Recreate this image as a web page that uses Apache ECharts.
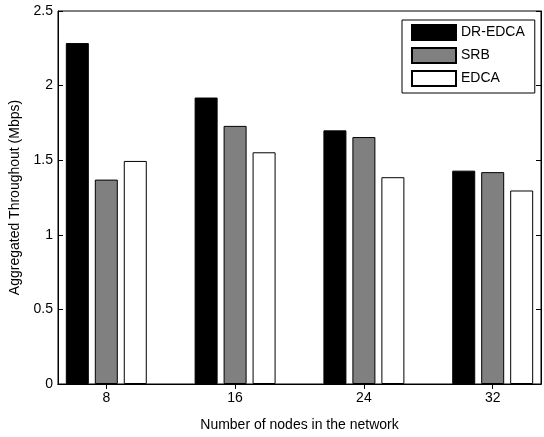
<!DOCTYPE html>
<html>
<head>
<meta charset="utf-8">
<script src="https://cdn.jsdelivr.net/npm/echarts@6/dist/echarts.min.js"></script>
<style>html,body{margin:0;padding:0;background:#fff}#c{width:544px;height:437px}</style>
</head>
<body>
<div id="c"></div>
<script>
var nodes = [8, 16, 24, 32];
var drEdca = [2.285, 1.92, 1.70, 1.43];
var srb = [1.37, 1.73, 1.655, 1.42];
var edca = [1.495, 1.553, 1.386, 1.297];
var seriesNames = ['DR-EDCA', 'SRB', 'EDCA'];
var yTicks = [0, 0.5, 1, 1.5, 2, 2.5];

function pairs(vals) { return nodes.map(function (n, i) { return [n, vals[i]]; }); }
var FONT = 'Liberation Sans, Arial, sans-serif';
var chart = echarts.init(document.getElementById('c'));
var colors = ['#000000', '#808080', '#ffffff'];
var data = [drEdca, srb, edca];
chart.setOption({
  animation: false,
  backgroundColor: '#fff',
  grid: { left: 58, right: 3, top: 11, bottom: 43, show: true, borderColor: '#000', borderWidth: 1, backgroundColor: 'transparent' },
  legend: {
    orient: 'vertical', left: 402, top: 20, padding: [4, 10, 6, 9],
    itemWidth: 44, itemHeight: 15, itemGap: 6,
    borderColor: '#000', borderWidth: 1, backgroundColor: '#fff',
    textStyle: { fontFamily: FONT, fontSize: 14, color: '#000', lineHeight: 15 },
    icon: 'rect',
    data: seriesNames
  },
  xAxis: [{
    type: 'value', min: 5, max: 35, position: 'bottom',
    name: 'Number of nodes in the network', nameLocation: 'middle', nameGap: 34,
    nameTextStyle: { fontFamily: FONT, fontSize: 14, color: '#000' },
    axisLine: { show: true, lineStyle: { color: '#000' } },
    axisTick: { show: true, inside: true, length: 5, customValues: nodes, lineStyle: { color: '#000' } },
    axisLabel: { customValues: nodes, fontFamily: FONT, fontSize: 14, color: '#000', margin: 7 },
    splitLine: { show: false }
  }, {
    type: 'value', min: 5, max: 35, position: 'top',
    axisLine: { show: true, lineStyle: { color: '#000' } },
    axisTick: { show: true, inside: true, length: 5, customValues: nodes, lineStyle: { color: '#000' } },
    axisLabel: { show: false }, splitLine: { show: false }
  }],
  yAxis: [{
    type: 'value', min: 0, max: 2.5, interval: 0.5, position: 'left',
    name: 'Aggregated Throughout (Mbps)', nameLocation: 'middle', nameGap: 28,
    nameTextStyle: { fontFamily: FONT, fontSize: 14, color: '#000' },
    axisLine: { show: true, lineStyle: { color: '#000' } },
    axisTick: { show: true, inside: true, length: 5, lineStyle: { color: '#000' } },
    axisLabel: { fontFamily: FONT, fontSize: 14, color: '#000', margin: 5 },
    splitLine: { show: false }
  }, {
    type: 'value', min: 0, max: 2.5, interval: 0.5, position: 'right',
    axisLine: { show: true, lineStyle: { color: '#000' } },
    axisTick: { show: true, inside: true, length: 5, lineStyle: { color: '#000' } },
    axisLabel: { show: false }, splitLine: { show: false }
  }],
  series: seriesNames.map(function (name, i) {
    return {
      name: name, type: 'bar', xAxisIndex: 0, yAxisIndex: 0,
      barWidth: 23, barGap: '26%',
      itemStyle: { color: colors[i], borderColor: '#000', borderWidth: 1 },
      data: pairs(data[i])
    };
  })
});
</script>
</body>
</html>
